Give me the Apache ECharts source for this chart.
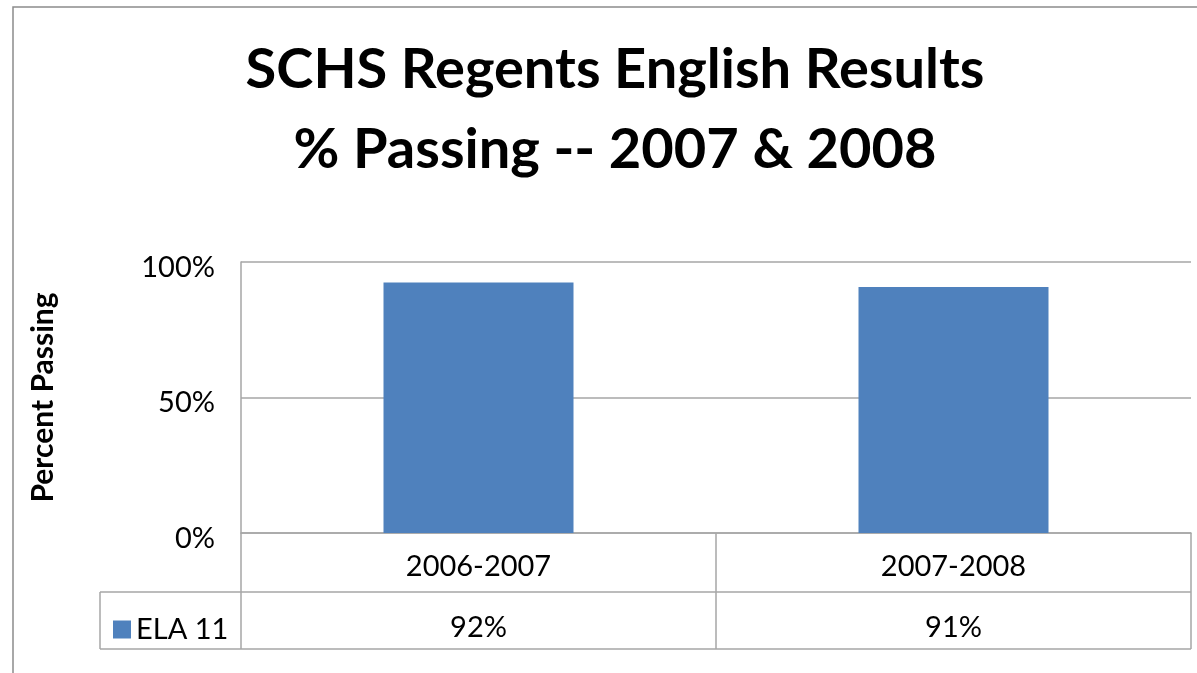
<!DOCTYPE html>
<html>
<head>
<meta charset="utf-8">
<script src="https://cdn.jsdelivr.net/npm/echarts@6/dist/echarts.min.js"></script>
<style>
  html, body { margin: 0; padding: 0; background: #fff; }
  #chart { width: 1197px; height: 673px; }
</style>
</head>
<body>
<div id="chart"></div>
<script>
// data
const categories = ["2006-2007", "2007-2008"];
const seriesName = "ELA 11";
const passing = [92.4, 90.8];
const tableLabels = ["92%", "91%"];
const yTicks = [0, 50, 100];
const titleLines = ["SCHS Regents English Results", "% Passing -- 2007 & 2008"];

const font = "Lato";
const grey = "#a6a6a6";
const chart = echarts.init(document.getElementById("chart"));

const titleStyle = { fontFamily: font, fontWeight: "bold", fontSize: 56, fill: "#000" };

chart.setOption({
  animation: false,
  textStyle: { fontFamily: font },
  legend: {
    left: 108,
    top: 610,
    itemWidth: 18,
    itemHeight: 18,
    itemGap: 10,
    icon: "rect",
    selectedMode: false,
    textStyle: { fontFamily: font, fontSize: 29, color: "#000" },
    data: [seriesName]
  },
  grid: { left: 241, right: 6, top: 262, bottom: 140, containLabel: false },
  xAxis: [
    {
      type: "category",
      data: categories,
      axisLine: { lineStyle: { color: grey, width: 1.5 } },
      axisTick: { show: true, length: 116, lineStyle: { color: grey, width: 1.5 } },
      axisLabel: {
        margin: 19,
        color: "#000",
        fontSize: 29,
        lineHeight: 29,
        fontFamily: font
      }
    },
    {
      type: "category",
      position: "bottom",
      offset: 59,
      data: tableLabels,
      axisLine: { show: false },
      axisTick: { show: false },
      axisLabel: {
        margin: 21,
        color: "#000",
        fontSize: 29,
        lineHeight: 29,
        fontFamily: font
      }
    }
  ],
  yAxis: {
    type: "value",
    min: yTicks[0],
    max: yTicks[yTicks.length - 1],
    interval: yTicks[1] - yTicks[0],
    name: "Percent Passing",
    nameLocation: "middle",
    nameRotate: 90,
    nameGap: 183,
    nameTextStyle: { fontFamily: font, fontWeight: "bold", fontSize: 30, color: "#000" },
    axisLine: { show: true, lineStyle: { color: grey, width: 1.5 } },
    axisTick: { show: false },
    splitLine: { lineStyle: { color: grey, width: 1.5 } },
    axisLabel: {
      formatter: "{t|{value}%}",
      margin: 26,
      rich: {
        t: {
          color: "#000",
          fontSize: 29,
          fontFamily: font,
          padding: [11, 0, 0, 0]
        }
      }
    }
  },
  series: [
    {
      name: seriesName,
      type: "bar",
      data: passing,
      barWidth: "40%",
      itemStyle: { color: "#4f81bd" }
    }
  ],
  graphic: [
    // outer chart border
    { type: "rect", shape: { x: 13, y: 7, width: 1250, height: 720 },
      style: { fill: "none", stroke: "#8c8c8c", lineWidth: 1.5 }, silent: true },
    // title
    { type: "text", x: 615, y: 70, silent: true,
      style: Object.assign({ text: titleLines[0], align: "center", verticalAlign: "middle" }, titleStyle) },
    { type: "text", x: 615, y: 150, silent: true,
      style: Object.assign({ text: titleLines[1], align: "center", verticalAlign: "middle" }, titleStyle) },
    // data table rows
    { type: "line", shape: { x1: 100, y1: 592, x2: 1191, y2: 592 },
      style: { stroke: grey, lineWidth: 1.5 }, silent: true },
    { type: "line", shape: { x1: 100, y1: 649, x2: 1191, y2: 649 },
      style: { stroke: grey, lineWidth: 1.5 }, silent: true },
    { type: "line", shape: { x1: 100, y1: 592, x2: 100, y2: 649 },
      style: { stroke: grey, lineWidth: 1.5 }, silent: true }
  ]
});
</script>
</body>
</html>
